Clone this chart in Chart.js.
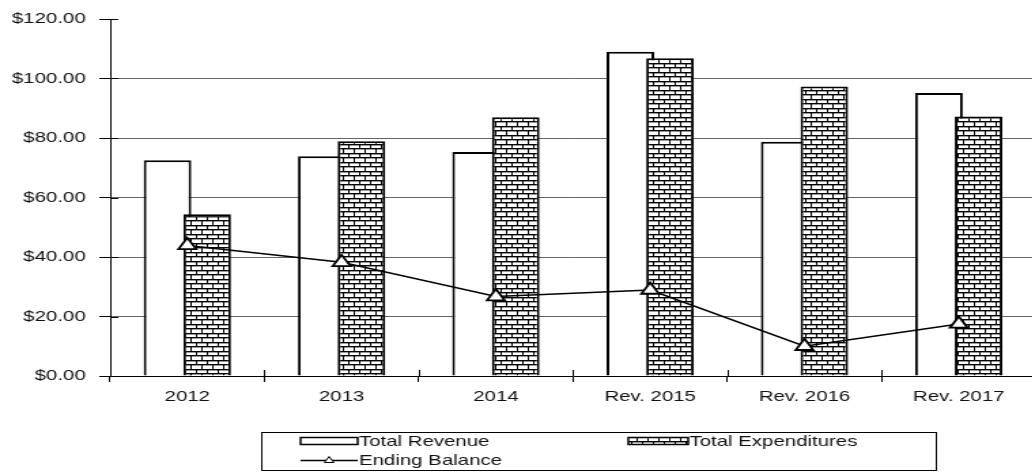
<!DOCTYPE html>
<html>
<head>
<meta charset="utf-8">
<script src="https://cdn.jsdelivr.net/npm/chart.js@4.4.1/dist/chart.umd.min.js"></script>
<style>
html,body{margin:0;padding:0;width:1032px;height:472px;overflow:hidden;background:#fff;}
#wrap{position:absolute;left:0;top:0;width:771px;height:472px;transform:scaleX(1.36);transform-origin:0 0;}
canvas{display:block;}
</style>
</head>
<body>
<div id="wrap"><canvas id="c" width="771" height="472"></canvas></div>
<script>
// ---- data ----
const categories = ['2012', '2013', '2014', 'Rev. 2015', 'Rev. 2016', 'Rev. 2017'];
const totalRevenue = [72.5, 73.9, 75.3, 109.0, 78.7, 95.1];
const totalExpenditures = [54.4, 78.9, 87.0, 106.8, 97.3, 87.2];
const endingBalance = [43.9, 38.2, 26.7, 28.9, 10.0, 17.5];
const yMin = 0, yMax = 120, yStep = 20;
const legendLabels = ['Total Revenue', 'Total Expenditures', 'Ending Balance'];

const FONT = "'Liberation Sans', Arial, sans-serif";
const canvas = document.getElementById('c');
const ctx = canvas.getContext('2d');

function brickPattern() {
  const c = document.createElement('canvas');
  c.width = 8; c.height = 9;
  const g = c.getContext('2d');
  g.fillStyle = '#fff'; g.fillRect(0, 0, 8, 9);
  g.fillStyle = '#000';
  g.fillRect(0, 0, 8, 1);
  g.fillRect(0, 4, 8, 1);
  g.fillRect(0, 1, 1, 3);
  g.fillRect(4, 5, 1, 4);
  g.fillStyle = '#9a9a9a';
  g.fillRect(1, 1, 7, 1);
  g.fillRect(0, 5, 4, 1);
  g.fillRect(5, 5, 3, 1);
  return ctx.createPattern(c, 'repeat');
}
const brick = brickPattern();

const drawOrder = {
  id: 'drawOrder',
  beforeDatasetsDraw(chart) {
    [0, 1, 2].forEach(i => {
      const m = chart.getDatasetMeta(i);
      if (m && !m.hidden) m.controller.draw();
    });
    return false;
  }
};

const crossTicks = {
  id: 'crossTicks',
  afterDraw(chart) {
    const c = chart.ctx, x = chart.scales.x, y = chart.scales.y, a = chart.chartArea;
    c.save();
    c.strokeStyle = '#000';
    c.lineWidth = 1;
    c.beginPath();
    for (let i = 0; i <= categories.length; i++) {
      const px = Math.round(x.getPixelForValue(i - 0.5)) + 0.5;
      c.moveTo(px, a.bottom - 6);
      c.lineTo(px, a.bottom);
    }
    for (let v = yMin; v <= yMax; v += yStep) {
      const py = Math.round(y.getPixelForValue(v)) + 0.5;
      c.moveTo(a.left, py);
      c.lineTo(a.left + 6, py);
    }
    c.stroke();
    c.restore();
  }
};

const legendBox = {
  id: 'legendBox',
  afterDraw(chart) {
    const c = chart.ctx;
    c.save();
    c.strokeStyle = '#000';
    c.lineWidth = 1;
    c.strokeRect(192.5, 432.5, 496, 38);
    c.font = '15px ' + FONT;
    c.fillStyle = '#111';
    c.textBaseline = 'middle';
    c.textAlign = 'left';
    // Total Revenue
    c.fillStyle = '#fff';
    c.fillRect(221, 437.5, 42, 7);
    c.lineWidth = 1.5;
    c.strokeRect(221, 437.5, 42, 7);
    c.fillStyle = '#111';
    c.fillText(legendLabels[0], 264, 441.5);
    // Total Expenditures
    c.fillStyle = brick;
    c.fillRect(462, 437.5, 44, 7);
    c.strokeRect(462, 437.5, 44, 7);
    c.fillStyle = '#111';
    c.fillText(legendLabels[1], 507, 441.5);
    // Ending Balance
    c.beginPath();
    c.moveTo(221, 460.5); c.lineTo(263, 460.5);
    c.lineWidth = 1.5; c.stroke();
    c.beginPath();
    const tx = 242, ty = 460.5, r = 4;
    c.moveTo(tx, ty - r);
    c.lineTo(tx + r * 0.866, ty + r / 2);
    c.lineTo(tx - r * 0.866, ty + r / 2);
    c.closePath();
    c.fillStyle = '#fff'; c.fill();
    c.lineWidth = 1; c.stroke();
    c.fillStyle = '#111';
    c.fillText(legendLabels[2], 264, 461);
    c.restore();
  }
};

new Chart(canvas, {
  type: 'bar',
  data: {
    labels: categories,
    datasets: [
      {
        label: legendLabels[0],
        data: totalRevenue,
        backgroundColor: '#fff',
        borderColor: '#000',
        borderWidth: 2,
        categoryPercentage: 0.514,
        barPercentage: 1.2
      },
      {
        label: legendLabels[1],
        data: totalExpenditures,
        backgroundColor: brick,
        borderColor: '#000',
        borderWidth: 2,
        categoryPercentage: 0.514,
        barPercentage: 1.2
      },
      {
        type: 'line',
        label: legendLabels[2],
        data: endingBalance,
        borderColor: '#000',
        borderWidth: 1.5,
        tension: 0,
        fill: false,
        pointStyle: 'triangle',
        pointRadius: 7.5,
        pointBackgroundColor: '#fff',
        pointBorderColor: '#000',
        pointBorderWidth: 1.8
      }
    ]
  },
  options: {
    responsive: false,
    animation: false,
    devicePixelRatio: 1,
    layout: { padding: { top: 17, right: 3, bottom: 66, left: 0 } },
    plugins: { legend: { display: false }, tooltip: { enabled: false } },
    scales: {
      x: {
        offset: true,
        grid: { display: true, drawOnChartArea: false, drawTicks: true, tickLength: 6, color: '#000', offset: true },
        border: { display: true, color: '#000', width: 1 },
        ticks: { font: { family: FONT, size: 15 }, color: '#111', padding: 6, maxRotation: 0, autoSkip: false },
        afterFit(s) { s.height = 30; }
      },
      y: {
        min: yMin, max: yMax,
        grid: {
          drawTicks: true, tickLength: 8, tickColor: '#000', tickWidth: 1,
          color: (c) => (c.tick && c.tick.value > yMin && c.tick.value < yMax) ? '#666' : 'rgba(0,0,0,0)',
          lineWidth: 1
        },
        border: { display: true, color: '#000', width: 1 },
        ticks: {
          stepSize: yStep,
          font: { family: FONT, size: 15 },
          color: '#111',
          padding: 10,
          callback: (v) => '$' + Number(v).toFixed(2)
        },
        afterFit(s) { s.width = 81; }
      }
    }
  },
  plugins: [drawOrder, crossTicks, legendBox]
});
</script>
</body>
</html>
